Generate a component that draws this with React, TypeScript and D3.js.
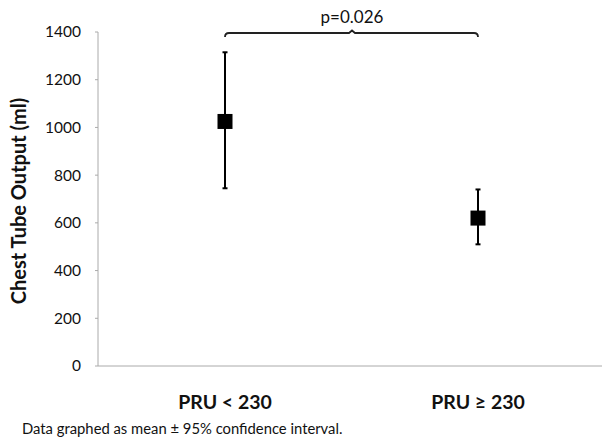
import React from "react";
import * as d3 from "d3";

const groups = ["PRU < 230", "PRU ≥ 230"];
const means = [1025, 620];
const lower = [745, 510];
const upper = [1315, 740];
const yTicks = [0, 200, 400, 600, 800, 1000, 1200, 1400];
const pLabel = "p=0.026";

const width = 602;
const height = 443;
const margin = { top: 32, left: 98, bottom: 77, right: 0 };
const font = "Lato, 'Open Sans', sans-serif";

export default function App() {
  const y = d3
    .scaleLinear()
    .domain([0, 1400])
    .range([height - margin.bottom, margin.top]);

  const x = d3
    .scalePoint<string>()
    .domain(groups)
    .range([225, 478]);

  const y0 = y(0);
  const bracketY = y(1400) + 1;
  const x1 = x(groups[0])!;
  const x2 = x(groups[1])!;
  const mid = 352;

  return (
    <svg
      width={width}
      height={height}
      style={{ position: "absolute", left: 0, top: 0, background: "#fff" }}
    >
      {/* axes */}
      <line x1={margin.left} x2={margin.left} y1={y(1400)} y2={y0} stroke="#aaa" strokeWidth={1} />
      <line x1={margin.left} x2={width} y1={y0} y2={y0} stroke="#aaa" strokeWidth={1} />
      {yTicks.map((t) => (
        <g key={t}>
          <line x1={margin.left - 3} x2={margin.left} y1={y(t)} y2={y(t)} stroke="#aaa" />
          <text
            x={margin.left - 17}
            y={y(t)}
            dy="0.35em"
            textAnchor="end"
            fontFamily={font}
            fontSize={15.5}
            fill="#111"
          >
            {t}
          </text>
        </g>
      ))}

      <text
        transform={`translate(26,${(y(1400) + y0) / 2 + 2}) rotate(-90)`}
        textAnchor="middle"
        fontFamily={font}
        fontWeight="bold"
        fontSize={20}
        fill="#111"
      >
        Chest Tube Output (ml)
      </text>

      {/* error bars and means */}
      {groups.map((g, i) => {
        const cx = x(g)!;
        return (
          <g key={g}>
            <line x1={cx} x2={cx} y1={y(upper[i])} y2={y(lower[i])} stroke="#000" strokeWidth={2} />
            <line x1={cx - 2.5} x2={cx + 2.5} y1={y(upper[i])} y2={y(upper[i])} stroke="#000" strokeWidth={2} />
            <line x1={cx - 2.5} x2={cx + 2.5} y1={y(lower[i])} y2={y(lower[i])} stroke="#000" strokeWidth={2} />
            <rect x={cx - 7.5} y={y(means[i]) - 7.5} width={15} height={15} fill="#000" />
            <text
              x={cx}
              y={409}
              textAnchor="middle"
              fontFamily={font}
              fontWeight="bold"
              fontSize={19.5}
              fill="#111"
            >
              {g}
            </text>
          </g>
        );
      })}

      {/* significance bracket */}
      <path
        d={`M${x1},${bracketY + 4} Q${x1},${bracketY} ${x1 + 4},${bracketY} L${mid - 3},${bracketY} L${mid},${bracketY - 2.5} L${mid + 3},${bracketY} L${x2 - 4},${bracketY} Q${x2},${bracketY} ${x2},${bracketY + 4}`}
        fill="none"
        stroke="#222"
        strokeWidth={1.8}
      />
      <text
        x={mid}
        y={23}
        textAnchor="middle"
        fontFamily={font}
        fontSize={17}
        fill="#111"
      >
        {pLabel}
      </text>

      <text x={22} y={434} fontFamily={font} fontSize={14.8} fill="#111">
        Data graphed as mean ± 95% confidence interval.
      </text>
    </svg>
  );
}
